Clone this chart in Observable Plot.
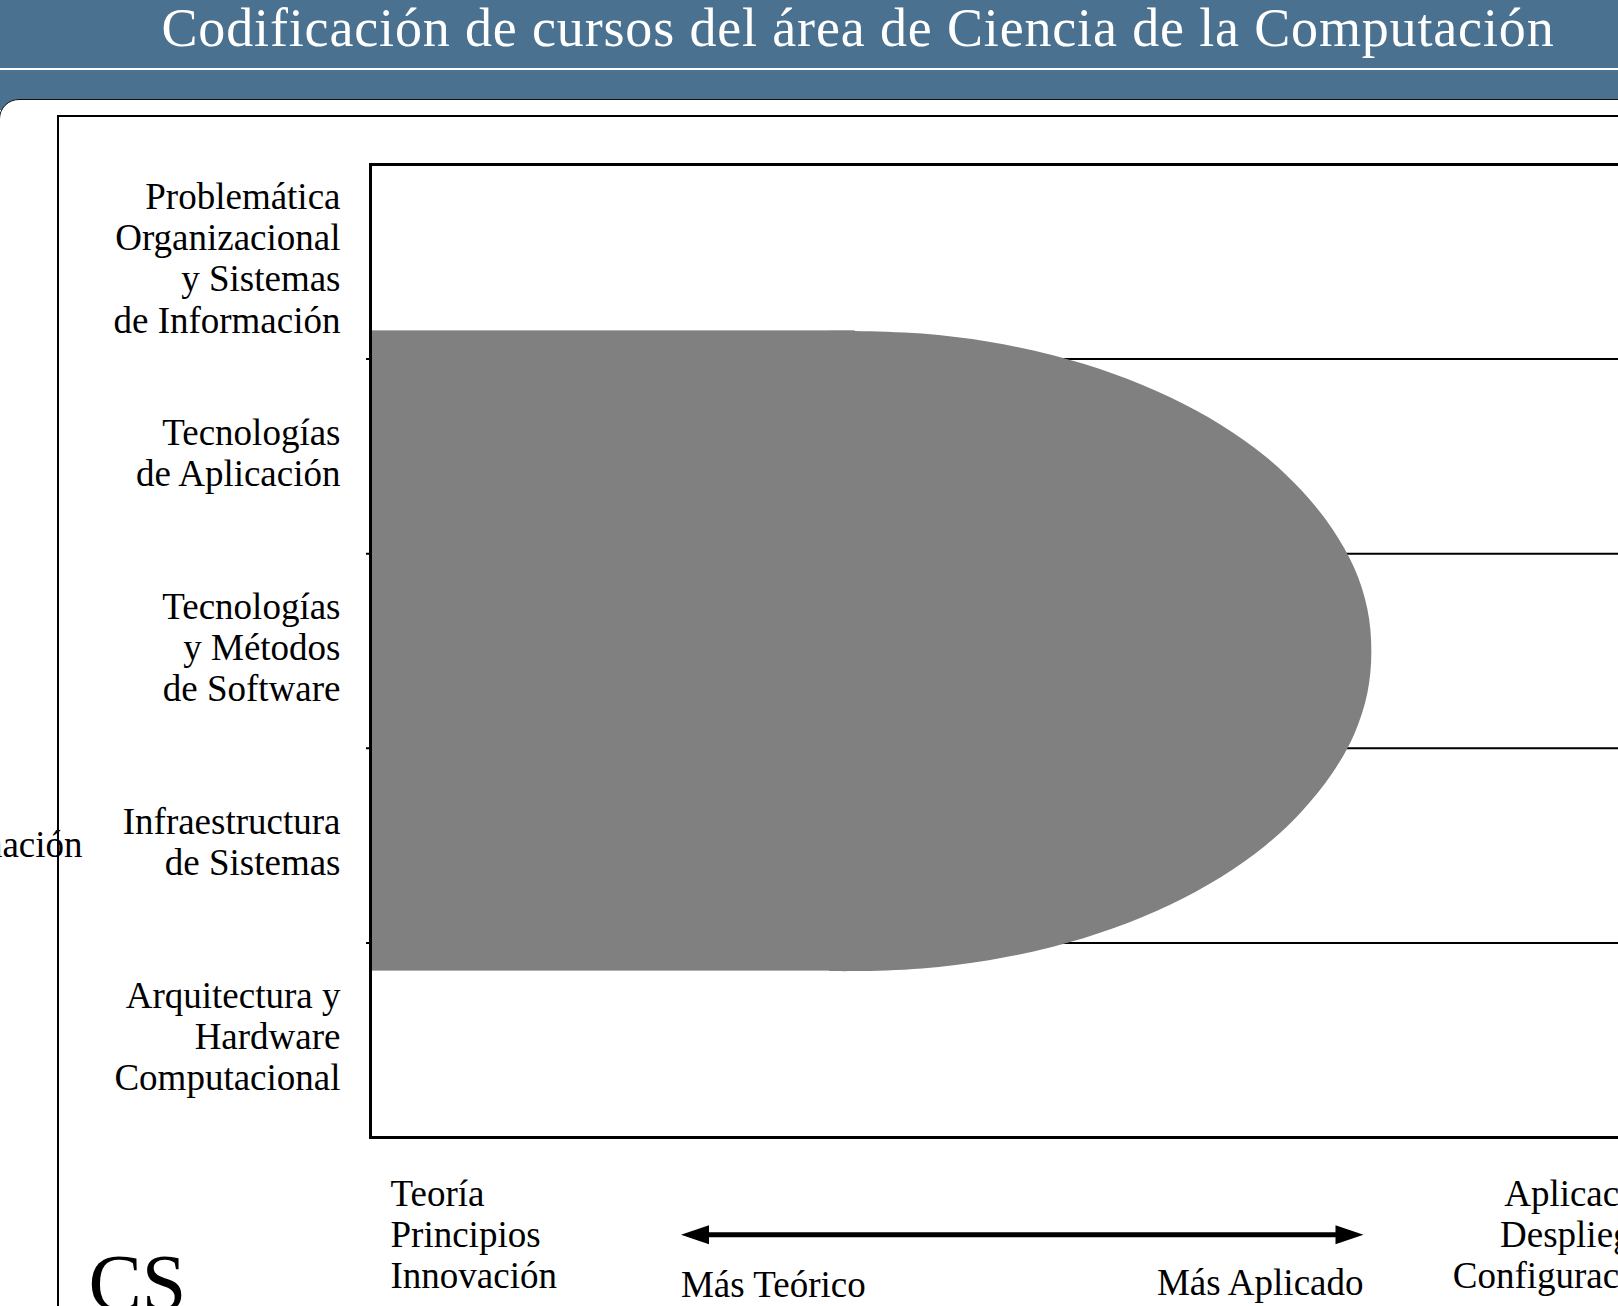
<!DOCTYPE html>
<html><head><meta charset="utf-8">
<script src="https://cdn.jsdelivr.net/npm/d3@7"></script>
<script src="https://cdn.jsdelivr.net/npm/@observablehq/plot@0.6"></script>
<style>
html,body{margin:0;padding:0;width:1618px;height:1306px;overflow:hidden;background:#fff;}
#page{position:relative;width:1618px;height:1306px;overflow:hidden;font-family:"Liberation Serif",serif;}
#band1{position:absolute;left:0;top:0;width:1618px;height:68px;background:#4b7190;}
#sep{position:absolute;left:0;top:68px;width:1618px;height:2px;background:#fff;}
#band2{position:absolute;left:0;top:70px;width:1618px;height:40px;background:#4b7190;}
#title{position:absolute;left:0;top:1px;width:1716px;text-align:center;color:#fff;font-size:54px;line-height:54px;letter-spacing:0.85px;font-weight:normal;white-space:nowrap;}
#box{position:absolute;left:-1px;top:99px;width:1800px;height:1400px;background:#fff;border:1.5px solid #111;border-top-left-radius:20px;}
#inner{position:absolute;left:57px;top:115px;width:1800px;height:1400px;border:2.5px solid #000;}
#chart{position:absolute;left:0;top:100px;}
</style>
</head>
<body>
<div id="page">
  <div id="band1"></div>
  <div id="sep"></div>
  <div id="band2"></div>
  <div id="title">Codificación de cursos del área de Ciencia de la Computación</div>
  <div id="box"></div>
  <div id="inner"></div>
  <div id="chart"></div>
</div>
<script>
// Areas (bottom to top)
const areas = [
  "Arquitectura y\nHardware\nComputacional",
  "Infraestructura\nde Sistemas",
  "Tecnologías\ny Métodos\nde Software",
  "Tecnologías\nde Aplicación",
  "Problemática\nOrganizacional\ny Sistemas\nde Información"
];
const areaCenters = [0.5, 1.5, 2.5, 3.5, 4.5];
const bandEdges = [1, 2, 3, 4];

// x axis extremes
const leftLabel = "Teoría\nPrincipios\nInnovación";
const rightLabel = "Aplicación\nDespliegue\nConfiguración";
const arrowLabels = ["Más Teórico", "Más Aplicado"];
const arrowEnds = [23.7, 75.8];
const arrowY = -0.5;

// Shaded CS region: rectangular part + rounded outline (x on 0-100, y on 0-5)
const regionRect = [{x1: 0, x2: 37.0, y1: 0.855, y2: 4.145}];
const outlineX = [35.0, 37.0, 42.1, 47.2, 52.1, 56.7, 61.0, 64.9, 68.3, 71.1, 73.4, 75.1, 76.1, 76.4, 76.1, 75.1, 73.4, 71.1, 68.3, 64.9, 61.0, 56.7, 52.1, 47.2, 42.1, 37.0, 35.0];
const outlineY = [4.145, 4.145, 4.131, 4.089, 4.020, 3.925, 3.805, 3.663, 3.501, 3.323, 3.130, 2.926, 2.715, 2.500, 2.285, 2.074, 1.870, 1.677, 1.499, 1.337, 1.195, 1.075, 0.980, 0.911, 0.869, 0.855, 0.855];
const outline = outlineX.map((x, i) => ({x, y: outlineY[i]}));

const sideLabel = "nación";
const cornerLabel = "CS";

const gray = "#808080";
const fs = 37;

const chart = Plot.plot({
  width: 1720,
  height: 1206,
  marginLeft: 370,
  marginRight: 40,
  marginTop: 64,
  marginBottom: 169,
  style: {background: "transparent", maxWidth: "none", fontFamily: "'Liberation Serif', serif", fontSize: fs + "px", color: "#000", overflow: "visible"},
  x: {domain: [0, 100], axis: null},
  y: {domain: [0, 5]},
  marks: [
    Plot.ruleY(bandEdges, {stroke: "#000", strokeWidth: 2, insetLeft: -4}),
    Plot.rect(regionRect, {x1: "x1", x2: "x2", y1: "y1", y2: "y2", fill: gray}),
    Plot.line(outline, {x: "x", y: "y", curve: "catmull-rom", fill: gray, stroke: "none"}),
    Plot.frame({stroke: "#000", strokeWidth: 3}),
    Plot.axisY({ticks: areaCenters, tickFormat: d => areas[Math.floor(d)], tickSize: 0, tickPadding: 30, fontSize: fs, lineHeight: 1.11, textAnchor: "end", dy: -4, label: null}),
    Plot.text([leftLabel], {text: d => d, frameAnchor: "bottom-left", textAnchor: "start", lineAnchor: "top", dx: 20, dy: 39, fontSize: fs, lineHeight: 1.11}),
    Plot.text([rightLabel], {text: d => d, frameAnchor: "bottom-right", textAnchor: "end", lineAnchor: "top", dx: -14, dy: 39, fontSize: fs, lineHeight: 1.11}),
    Plot.ruleY([{y: arrowY, x1: arrowEnds[0], x2: arrowEnds[1]}], {y: "y", x1: "x1", x2: "x2", stroke: "#000", strokeWidth: 5, insetLeft: 16, insetRight: 16}),
    Plot.vector([{x: arrowEnds[0], y: arrowY}], {x: "x", y: "y", length: 28, r: 9.5, rotate: -90, shape: "spike", anchor: "end", fill: "#000", stroke: "none"}),
    Plot.vector([{x: arrowEnds[1], y: arrowY}], {x: "x", y: "y", length: 28, r: 9.5, rotate: 90, shape: "spike", anchor: "end", fill: "#000", stroke: "none"}),
    Plot.text([{x: arrowEnds[0], t: arrowLabels[0]}], {x: "x", text: "t", frameAnchor: "bottom", textAnchor: "start", lineAnchor: "top", dy: 133, fontSize: fs}),
    Plot.text([{x: arrowEnds[1], t: arrowLabels[1]}], {x: "x", text: "t", frameAnchor: "bottom", textAnchor: "end", lineAnchor: "top", dy: 131, fontSize: fs}),
    Plot.text([sideLabel], {text: d => d, frameAnchor: "left", y: 1.5, textAnchor: "end", dx: -288, fontSize: fs}),
    Plot.text([cornerLabel], {text: d => d, frameAnchor: "bottom-left", textAnchor: "start", lineAnchor: "top", dx: -282, dy: 116, fontSize: 80})
  ]
});
document.getElementById("chart").appendChild(chart);
</script>
</body></html>
